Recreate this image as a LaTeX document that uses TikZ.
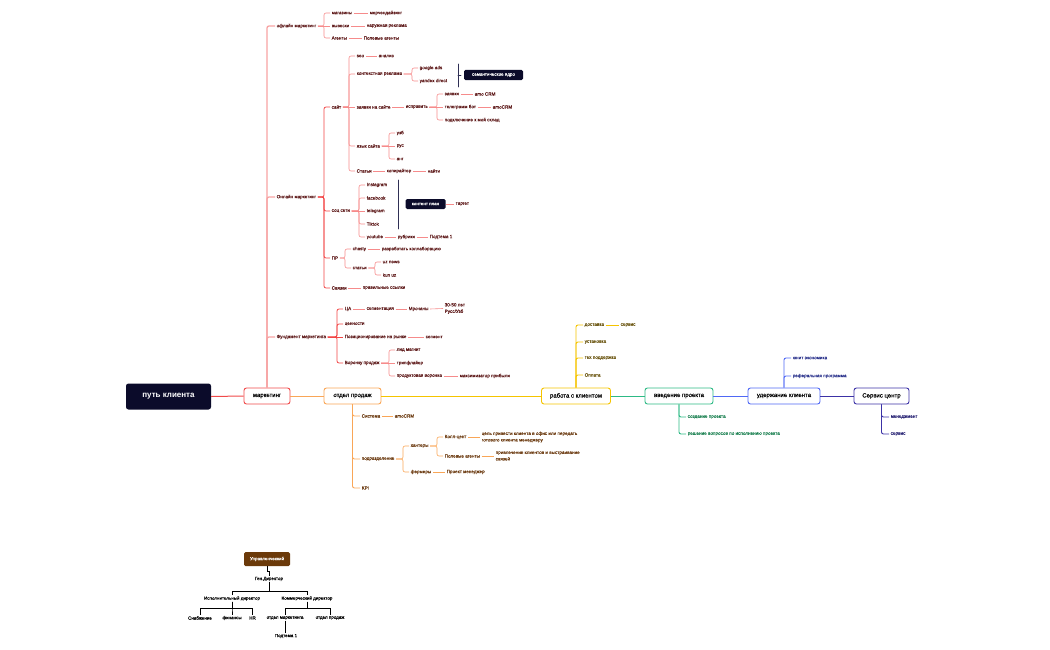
\documentclass[tikz,border=0pt]{standalone}
\usepackage{fontspec}
\setmainfont{Liberation Sans}
\newfontfamily\lbf[FakeBold=0.3]{Liberation Sans}
\definecolor{navy}{HTML}{0B0B2A}
\definecolor{cRed}{HTML}{F04A4A}
\definecolor{cRedM}{HTML}{F24545}
\definecolor{cRedP}{HTML}{F7A3A3}
\definecolor{cRedL}{HTML}{F68B8B}
\definecolor{tRed}{HTML}{5E1A1A}
\definecolor{cOr}{HTML}{F9A657}
\definecolor{tOr}{HTML}{6B3A10}
\definecolor{cYe}{HTML}{F5C400}
\definecolor{tYe}{HTML}{6A5510}
\definecolor{cGr}{HTML}{2DBA85}
\definecolor{tGr}{HTML}{1A8050}
\definecolor{cBl}{HTML}{4F68F5}
\definecolor{tBl}{HTML}{2B338C}
\definecolor{cPu}{HTML}{3C32A6}
\definecolor{tPu}{HTML}{2A2575}
\definecolor{cBr}{HTML}{6B3A0A}
\definecolor{brk}{HTML}{2F2F55}
\newcommand{\lnk}[3]{\draw[#1] (#2.east) -| ([xshift=-6pt]#3.west) -- (#3.west);}
\newcommand{\strl}[3]{\draw[#1] (#2.east) -- (#3.west);}
\begin{document}
\begin{tikzpicture}[x=1pt,y=-1pt,
  txt/.style={anchor=west, font=\lbf\fontsize{4.6}{6.5}\selectfont, inner xsep=1.5pt, inner ysep=0.8pt, align=left},
  rt/.style={txt,text=tRed}, ot/.style={txt,text=tOr}, yt/.style={txt,text=tYe},
  gt/.style={txt,text=tGr}, bt/.style={txt,text=tBl}, pt/.style={txt,text=tPu},
  kt/.style={font=\lbf\fontsize{4.5}{5.5}\selectfont, inner xsep=1pt, inner ysep=0.8pt, text=black},
  rl/.style={draw=cRedL, line width=0.6pt, rounded corners=2pt},
  rs/.style={draw=cRedM, line width=0.8pt, rounded corners=2pt},
  rp/.style={draw=cRedP, line width=1.3pt, rounded corners=2pt},
  ol/.style={draw=cOr, line width=0.6pt, rounded corners=2pt},
  os/.style={draw=cOr, line width=0.9pt, rounded corners=2pt},
  ys/.style={draw=cYe, line width=0.9pt, rounded corners=2pt},
  gs/.style={draw=cGr, line width=0.9pt, rounded corners=2pt},
  bs/.style={draw=cBl, line width=0.9pt, rounded corners=2pt},
  ps/.style={draw=cPu, line width=0.9pt, rounded corners=2pt},
  brl/.style={draw=brk, line width=0.8pt, line cap=round},
  org/.style={draw=black, line width=0.45pt},
  mainbox/.style={draw=#1, fill=white, line width=0.9pt, rounded corners=2.5pt, minimum height=16pt, font=\lbf\fontsize{6}{7}\selectfont, inner xsep=4pt, text=black},
  darkbox/.style={fill=navy, text=white, rounded corners=1.5pt, minimum height=10pt, font=\lbf\fontsize{4.5}{5}\selectfont, inner xsep=3pt}
]
\useasboundingbox (0,0) rectangle (1050,650);

% ---------- main row ----------
\node[fill=navy, text=white, rounded corners=2.5pt, minimum width=85pt, minimum height=26pt, font=\bfseries\fontsize{8}{9}\selectfont] (pk) at (168.5,396.5) {путь клиента};
\node[mainbox=cRed, minimum width=46pt] (mk) at (267,396) {маркетинг};
\node[mainbox=cOr, minimum width=57pt] (op) at (352.5,396) {отдел продаж};
\node[mainbox=cYe, minimum width=69pt] (rk) at (576,396) {работа с клиентом};
\node[mainbox=cGr, minimum width=68pt] (vp) at (679,396) {введение проекта};
\node[mainbox=cBl, minimum width=72pt] (uk) at (784,396) {удержание клиента};
\node[mainbox=cPu, minimum width=55pt] (sc) at (881.5,396) {Сервис центр};

\draw[draw=cRed, line width=1pt] (pk.east) -- (mk.west);
\draw[draw=cOr, line width=1pt] (mk.east) -- (op.west);
\draw[draw=cYe, line width=1pt] (op.east) -- (rk.west);
\draw[draw=cGr, line width=1pt] (rk.east) -- (vp.west);
\draw[draw=cBl, line width=1pt] (vp.east) -- (uk.west);
\draw[draw=cPu, line width=1pt] (uk.east) -- (sc.west);

% ---------- marketing ----------
\node[rt] (off) at (275,26) {офлайн маркетинг};
\node[rt] (onl) at (275,197) {Онлайн маркетинг};
\node[rt] (fund) at (275,337) {Фундамент маркетинга};
\draw[rp] (mk.north) |- (off.west);
\draw[rp] (mk.north) |- (onl.west);
\draw[rp] (mk.north) |- (fund.west);

% offline
\node[rt] (mag) at (330,13) {магазины};
\node[rt] (mer) at (368,13) {мерчендайзинг};
\node[rt] (vyv) at (330,26) {вывески};
\node[rt] (nar) at (365,26) {наружная реклама};
\node[rt] (agt) at (330,38) {Агенты};
\node[rt] (pag) at (362,38) {Полевые агенты};
\lnk{rl}{off}{mag} \strl{rl}{off}{vyv} \lnk{rl}{off}{agt}
\strl{rl}{mag}{mer} \strl{rl}{vyv}{nar} \strl{rl}{agt}{pag}

% online
\node[rt] (sayt) at (330,107) {сайт};
\node[rt] (soc) at (330,211) {соц сети};
\node[rt] (pr) at (330,258) {ПР};
\node[rt] (svz) at (330,288) {Связки};
\lnk{rs}{onl}{sayt} \lnk{rs}{onl}{soc} \lnk{rs}{onl}{pr} \lnk{rs}{onl}{svz}

% site
\node[rt] (seo) at (355,56) {seo};
\node[rt] (anl) at (377,56) {анализ};
\node[rt] (kr) at (355,74) {контекстная реклама};
\node[rt] (gad) at (418,68) {google ads};
\node[rt] (yad) at (418,81) {yandex direct};
\node[rt] (zs) at (355,107) {заявки на сайте};
\node[rt] (isp) at (404,107) {исправить};
\node[rt] (zv) at (443,94) {заявки};
\node[rt] (amoa) at (473,94) {amo CRM};
\node[rt] (tg) at (443,107) {телеграмм бот};
\node[rt] (amob) at (491,107) {amoCRM};
\node[rt] (pms) at (443,120) {подключение к мой склад};
\node[rt] (yaz) at (355,146) {язык сайта};
\node[rt] (uzb) at (395,133) {узб};
\node[rt] (rus) at (395,146) {рус};
\node[rt] (ang) at (395,159) {анг};
\node[rt] (stat) at (355,171) {Статьи};
\node[rt] (kop) at (385,171) {копирайтер};
\node[rt] (nay) at (426,171) {найти};
\lnk{rl}{sayt}{seo} \lnk{rl}{sayt}{kr} \strl{rl}{sayt}{zs} \lnk{rl}{sayt}{yaz} \lnk{rl}{sayt}{stat}
\strl{rl}{seo}{anl} \lnk{rl}{kr}{gad} \lnk{rl}{kr}{yad}
\strl{rl}{zs}{isp} \lnk{rl}{isp}{zv} \strl{rl}{isp}{tg} \lnk{rl}{isp}{pms}
\strl{rl}{zv}{amoa} \strl{rl}{tg}{amob}
\lnk{rl}{yaz}{uzb} \strl{rl}{yaz}{rus} \lnk{rl}{yaz}{ang}
\strl{rl}{stat}{kop} \strl{rl}{kop}{nay}
\coordinate (bra) at (458,64);
\coordinate (brb) at (458,87);
\coordinate (brm) at (458,75);
\node[darkbox, minimum width=59pt] (sem) at (493.5,75) {семантическое ядро};
\draw[brl] (bra) -- (brb);
\draw[brl] (brm) -- ++(3,0);

% social
\node[rt] (ig) at (365,185) {Instagram};
\node[rt] (fb) at (365,198) {facebook};
\node[rt] (tgm) at (365,211) {telegram};
\node[rt] (tt) at (365,224) {Tiktok};
\node[rt] (yt) at (365,237) {youtube};
\node[rt] (rub) at (396,237) {рубрики};
\node[rt] (pta) at (428,237) {Подтема 1};
\lnk{rl}{soc}{ig} \lnk{rl}{soc}{fb} \strl{rl}{soc}{tgm} \lnk{rl}{soc}{tt} \lnk{rl}{soc}{yt}
\strl{rl}{yt}{rub} \strl{rl}{rub}{pta}
\coordinate (bsa) at (398,180);
\coordinate (bsb) at (398,229);
\node[darkbox, minimum width=40pt] (kp) at (425.5,204) {контент план};
\node[rt] (trg) at (454,204) {таргет};
\draw[brl] (bsa) -- (bsb);
\draw[rl] (kp.east) -- (trg.west);

% PR
\node[rt] (chs) at (351,249) {chasty};
\node[rt] (rkol) at (380,249) {разработать коллаборацию};
\node[rt] (stb) at (351,268) {статьи};
\node[rt] (uzn) at (381,262) {uz news};
\node[rt] (kun) at (381,275) {kun uz};
\node[rt] (prs) at (361,288) {правильные ссылки};
\lnk{rl}{pr}{chs} \lnk{rl}{pr}{stb} \strl{rl}{chs}{rkol}
\lnk{rl}{stb}{uzn} \lnk{rl}{stb}{kun} \strl{rl}{svz}{prs}

% foundation
\node[rt] (ca) at (343,309) {ЦА};
\node[rt] (seg) at (365,309) {сегментация};
\node[rt] (mro) at (407,309) {Мрочаны};
\node[rt] (age) at (443,308.5) {30-50 лет\\Русс/Узб};
\node[rt] (cen) at (343,324) {ценности};
\node[rt] (poz) at (343,337) {Позиционирование на рынке};
\node[rt] (sgm) at (424,337) {сегмент};
\node[rt] (vor) at (343,363) {Воронку продаж};
\node[rt] (lid) at (395,350) {лид магнит};
\node[rt] (trip) at (395,363) {трипфлайер};
\node[rt] (prv) at (395,376) {продуктовая воронка};
\node[rt] (max) at (458,376) {максимизатор прибыли};
\lnk{rs}{fund}{ca} \lnk{rs}{fund}{cen} \strl{rs}{fund}{poz} \lnk{rs}{fund}{vor}
\strl{rl}{ca}{seg} \strl{rl}{seg}{mro} \strl{rl}{mro}{age} \strl{rl}{poz}{sgm}
\lnk{rl}{vor}{lid} \strl{rl}{vor}{trip} \lnk{rl}{vor}{prv} \strl{rl}{prv}{max}

% ---------- sales ----------
\node[ot] (sis) at (360,416) {Система};
\node[ot] (amoc) at (393,416) {amoCRM};
\node[ot] (pod) at (360,459) {подразделение};
\node[ot] (hnt) at (409,446) {хантеры};
\node[ot] (frm) at (409,472) {фермеры};
\node[ot] (kc) at (443,437) {Колл-цент};
\node[ot] (cel) at (480,437) {цель привести клиента в офис или передать\\готового клиента менеджеру};
\node[ot] (pab) at (443,456) {Полевые агенты};
\node[ot] (pri) at (494,456) {привлечение клиентов и выстраивание\\связей};
\node[ot] (pm) at (445,472) {Проект менеджер};
\node[ot] (kpi) at (360,488) {KPI};
\draw[os] (op.south) |- (sis.west);
\draw[os] (op.south) |- (pod.west);
\draw[os] (op.south) |- (kpi.west);
\strl{ol}{sis}{amoc} \lnk{ol}{pod}{hnt} \lnk{ol}{pod}{frm}
\lnk{ol}{hnt}{kc} \lnk{ol}{hnt}{pab} \strl{ol}{kc}{cel} \strl{ol}{pab}{pri} \strl{ol}{frm}{pm}

% ---------- client work ----------
\node[yt] (dos) at (583,325) {доставка};
\node[yt] (ser) at (619,325) {сервис};
\node[yt] (ust) at (583,342) {установка};
\node[yt] (teh) at (583,358) {тех поддержка};
\node[yt] (opl) at (583,375) {Оплата};
\draw[ys] (rk.north) |- (dos.west);
\draw[ys] (rk.north) |- (ust.west);
\draw[ys] (rk.north) |- (teh.west);
\draw[ys] (rk.north) |- (opl.west);
\draw[ys, line width=0.6pt] (dos.east) -- (ser.west);

% ---------- project ----------
\node[gt] (sozd) at (686,417) {создание проекта};
\node[gt] (resh) at (686,434) {решение вопросов по исполнению проекта};
\draw[gs] (vp.south) |- (sozd.west);
\draw[gs] (vp.south) |- (resh.west);

% ---------- retention ----------
\node[bt] (yun) at (791,358) {юнит экономика};
\node[bt] (ref) at (791,376) {реферальная программа};
\draw[bs] (uk.north) |- (yun.west);
\draw[bs] (uk.north) |- (ref.west);

% ---------- service ----------
\node[pt] (men) at (889,417) {менеджмент};
\node[pt] (serv) at (889,434) {сервис};
\draw[ps] (sc.south) |- (men.west);
\draw[ps] (sc.south) |- (serv.west);

% ---------- org chart ----------
\node[fill=cBr, text=white, rounded corners=1.5pt, minimum width=46pt, minimum height=14pt, font=\lbf\fontsize{4.5}{5}\selectfont] (ub) at (267,559) {Управленческий};
\node[kt] (gd) at (269,579) {Ген.Директор};
\node[kt] (ex) at (232,598.5) {Исполнительный директор};
\node[kt] (kd) at (307,598.5) {Коммерческий директор};
\node[kt] (sn) at (200,618) {Снабжение};
\node[kt] (fin) at (232,618) {финансы};
\node[kt] (hr) at (252.5,618) {HR};
\node[kt] (om) at (285,618) {отдел маркетинга};
\node[kt] (opr) at (330,618) {отдел продаж};
\node[kt] (ptb) at (286,636) {Подтема 1};
\draw[org] (ub.south) -- ++(0,5) -| (gd.north);
\draw[org] (gd.south) -- ++(0,9.5) -| (ex.north);
\draw[org] (gd.south) -- ++(0,9.5) -| (kd.north);
\draw[org] (ex.south) -- ++(0,6.5) -| (sn.north);
\draw[org] (ex.south) -- ++(0,6.5) -| (fin.north);
\draw[org] (ex.south) -- ++(0,6.5) -| (hr.north);
\draw[org] (kd.south) -- ++(0,6.5) -| (om.north);
\draw[org] (kd.south) -- ++(0,6.5) -| (opr.north);
\draw[org] (om.south) -- (om.south |- ptb.north);
\end{tikzpicture}
\end{document}
